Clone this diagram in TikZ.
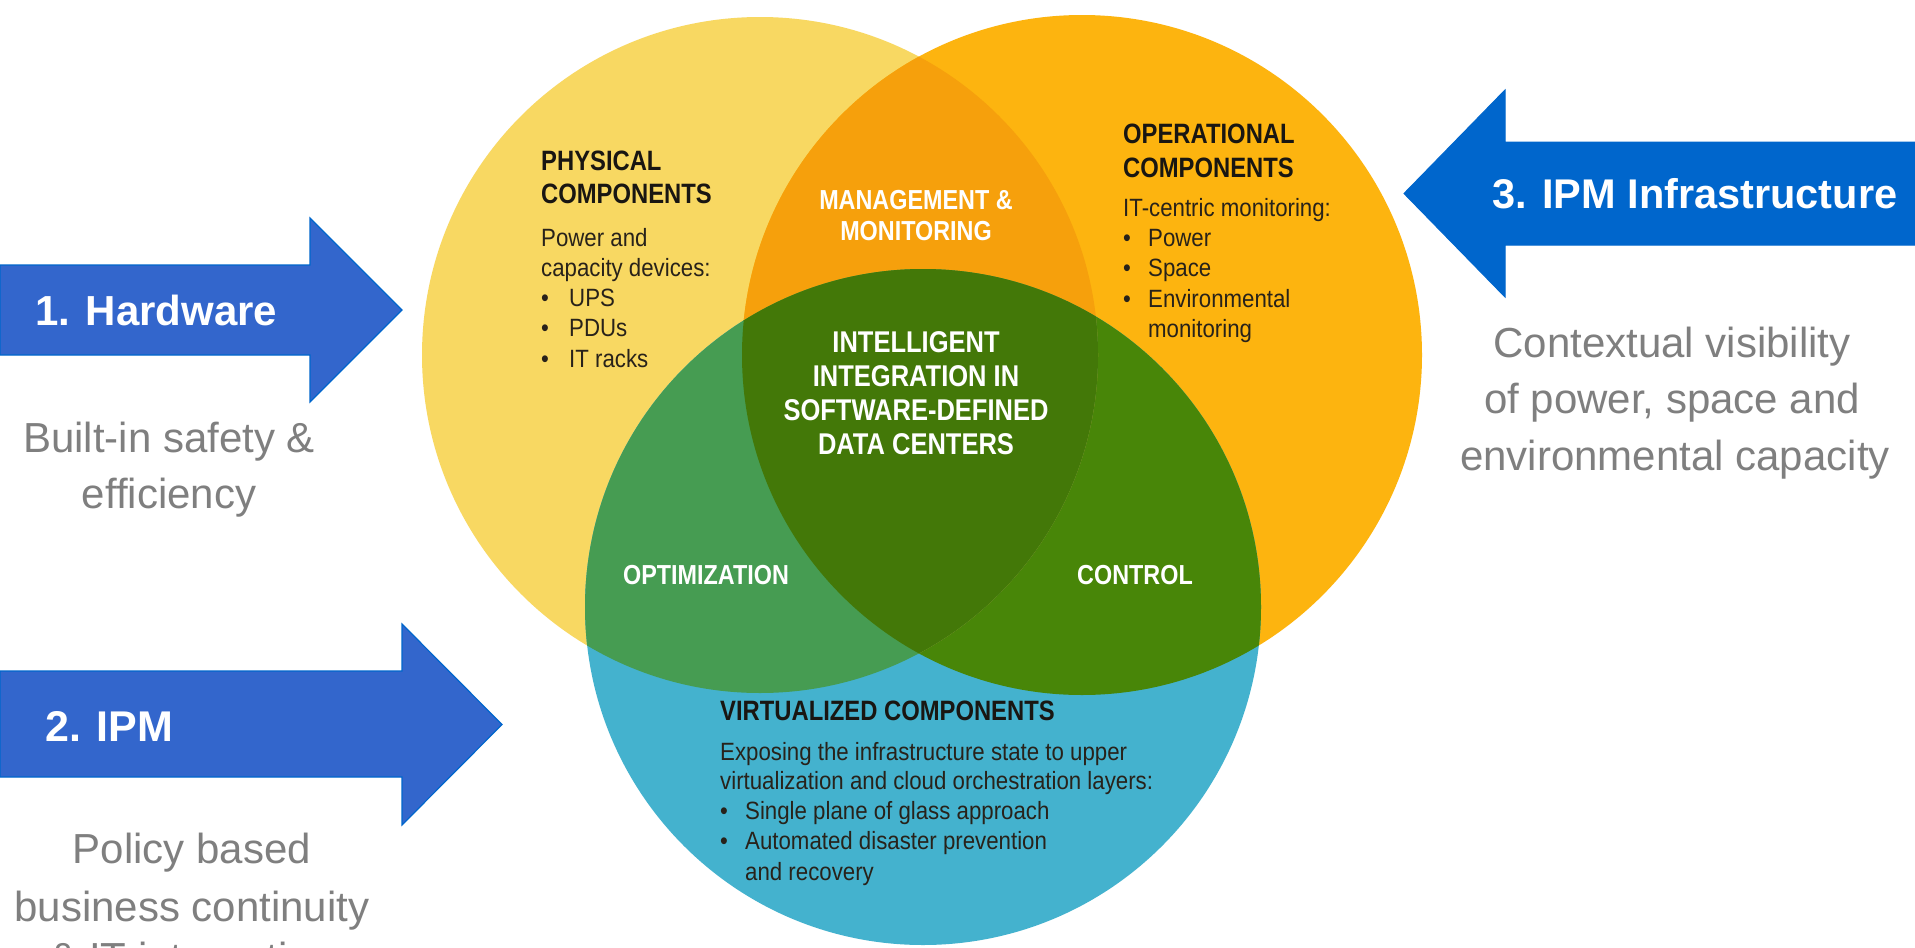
\documentclass[tikz,border=0pt]{standalone}
\usepackage{fontspec}
\setmainfont{Liberation Sans}
\newfontfamily\condb[FakeStretch=0.85]{Liberation Sans Bold}
\newfontfamily\condr[FakeStretch=0.89]{Liberation Sans}
\definecolor{cY}{RGB}{248,216,98}
\definecolor{cO}{RGB}{253,180,15}
\definecolor{cMO}{RGB}{246,160,12}
\definecolor{cB}{RGB}{68,178,206}
\definecolor{cOPT}{RGB}{70,156,82}
\definecolor{cCTL}{RGB}{72,134,8}
\definecolor{cCEN}{RGB}{67,120,8}
\definecolor{cArrow}{RGB}{51,102,204}
\definecolor{cArrowLine}{RGB}{0,102,204}
\definecolor{cGray}{RGB}{127,127,127}
\definecolor{cHd}{RGB}{25,22,18}
\definecolor{cTx}{RGB}{40,34,26}
\tikzset{
  hd/.style={font=\condb\fontsize{28}{28}\selectfont, text=cHd, inner sep=0pt, anchor=base west},
  rg/.style={font=\condr\fontsize{25}{25}\selectfont, text=cTx, inner sep=0pt, anchor=base west},
  wl/.style={font=\condb\fontsize{27.5}{27.5}\selectfont, text=white, inner sep=0pt, anchor=base},
  wc/.style={font=\condb\fontsize{30}{30}\selectfont, text=white, inner sep=0pt, anchor=base},
  arrowtxt/.style={font=\bfseries\fontsize{42}{42}\selectfont, text=white, inner sep=0pt, anchor=base west},
  side/.style={font=\fontsize{42}{42}\selectfont, text=cGray, inner sep=0pt, anchor=base},
  bigarrow/.style={fill=cArrow, draw=cArrowLine, line width=1.2pt, line join=miter},
  bigarrowdark/.style={fill=cArrowLine, draw=cArrowLine, line width=1pt, line join=miter},
}
\begin{document}
\begin{tikzpicture}[x=1pt,y=-1pt]
\useasboundingbox (0,0) rectangle (1915,948);
\clip (0,0) rectangle (1915,948);
\fill[white] (0,0) rectangle (1915,948);

% circles
\coordinate (cy) at (760,355);
\coordinate (co) at (1082,355);
\coordinate (cb) at (923,607);
\fill[cY] (cy) circle[radius=338pt];
\fill[cO] (co) circle[radius=340pt];
\fill[cB] (cb) circle[radius=338pt];
\begin{scope}
  \clip (co) circle[radius=340pt];
  \fill[cCTL] (cb) circle[radius=338pt];
\end{scope}
\begin{scope}
  \clip (cy) circle[radius=338pt];
  \fill[cMO] (co) circle[radius=340pt];
  \fill[cOPT] (cb) circle[radius=338pt];
  \clip (co) circle[radius=340pt];
  \fill[cCEN] (cb) circle[radius=338pt];
\end{scope}

% arrows
\fill[bigarrow] (0,265) -- (310,265) -- (310,218) -- (402,310) -- (310,402) -- (310,355) -- (0,355) -- cycle;
\fill[bigarrow] (0,671) -- (402,671) -- (402,624) -- (502,724.5) -- (402,825) -- (402,777) -- (0,777) -- cycle;
\fill[bigarrowdark] (1915,142) -- (1505,142) -- (1505,90) -- (1404,193.5) -- (1505,297) -- (1505,245) -- (1915,245) -- cycle;

\node[arrowtxt] (a1) at (35,325) {1. Hardware};
\node[arrowtxt, font=\bfseries\fontsize{43}{43}\selectfont] (a2) at (45,741) {2. IPM};
\node[arrowtxt, font=\bfseries\fontsize{41.5}{41.5}\selectfont] (a3) at (1492,208) {3. IPM Infrastructure};

% side texts
\node[side] (s1a) at (169,452) {Built-in safety \&};
\node[side] (s1b) at (169,508) {efficiency};
\node[side] (s2a) at (192,863) {Policy based};
\node[side] (s2b) at (192,921) {business continuity};
\node[side] (s2c) at (192,972) {\& IT integration};
\node[side] (s3a) at (1672,357) {Contextual visibility};
\node[side] (s3b) at (1672,413) {of power, space and};
\node[side] (s3c) at (1675,470) {environmental capacity};

% physical components
\node[hd] (p1) at (541,170) {PHYSICAL};
\node[hd] (p2) at (541,203) {COMPONENTS};
\node[rg] (p3) at (541,246) {Power and};
\node[rg] (p4) at (541,276) {capacity devices:};
\node[rg] (pb1) at (541,306) {\textbullet};
\node[rg] (p5) at (569,306) {UPS};
\node[rg] (pb2) at (541,336) {\textbullet};
\node[rg] (p6) at (569,336) {PDUs};
\node[rg] (pb3) at (541,367) {\textbullet};
\node[rg] (p7) at (569,367) {IT racks};

% operational components
\node[hd] (o1) at (1123,143) {OPERATIONAL};
\node[hd] (o2) at (1123,177) {COMPONENTS};
\node[rg] (o3) at (1123,216) {IT-centric monitoring:};
\node[rg] (ob1) at (1123,246) {\textbullet};
\node[rg] (o4) at (1148,246) {Power};
\node[rg] (ob2) at (1123,276) {\textbullet};
\node[rg] (o5) at (1148,276) {Space};
\node[rg] (ob3) at (1123,307) {\textbullet};
\node[rg] (o6) at (1148,307) {Environmental};
\node[rg] (o7) at (1148,337) {monitoring};

% management
\node[wl] (m1) at (916,209) {MANAGEMENT \&};
\node[wl] (m2) at (916,240) {MONITORING};

% center
\node[wc] (c1) at (916,352) {INTELLIGENT};
\node[wc] (c2) at (916,386) {INTEGRATION IN};
\node[wc] (c3) at (916,420) {SOFTWARE-DEFINED};
\node[wc] (c4) at (916,454) {DATA CENTERS};

% optimization / control
\node[wl] (opt) at (706,584) {OPTIMIZATION};
\node[wl] (ctl) at (1135,584) {CONTROL};

% virtualized components
\node[hd] (v1) at (720,720) {VIRTUALIZED COMPONENTS};
\node[rg] (v2) at (720,760) {Exposing the infrastructure state to upper};
\node[rg] (v3) at (720,789) {virtualization and cloud orchestration layers:};
\node[rg] (vb1) at (720,819) {\textbullet};
\node[rg] (v4) at (745,819) {Single plane of glass approach};
\node[rg] (vb2) at (720,849) {\textbullet};
\node[rg] (v5) at (745,849) {Automated disaster prevention};
\node[rg] (v6) at (745,880) {and recovery};
\end{tikzpicture}
\end{document}
